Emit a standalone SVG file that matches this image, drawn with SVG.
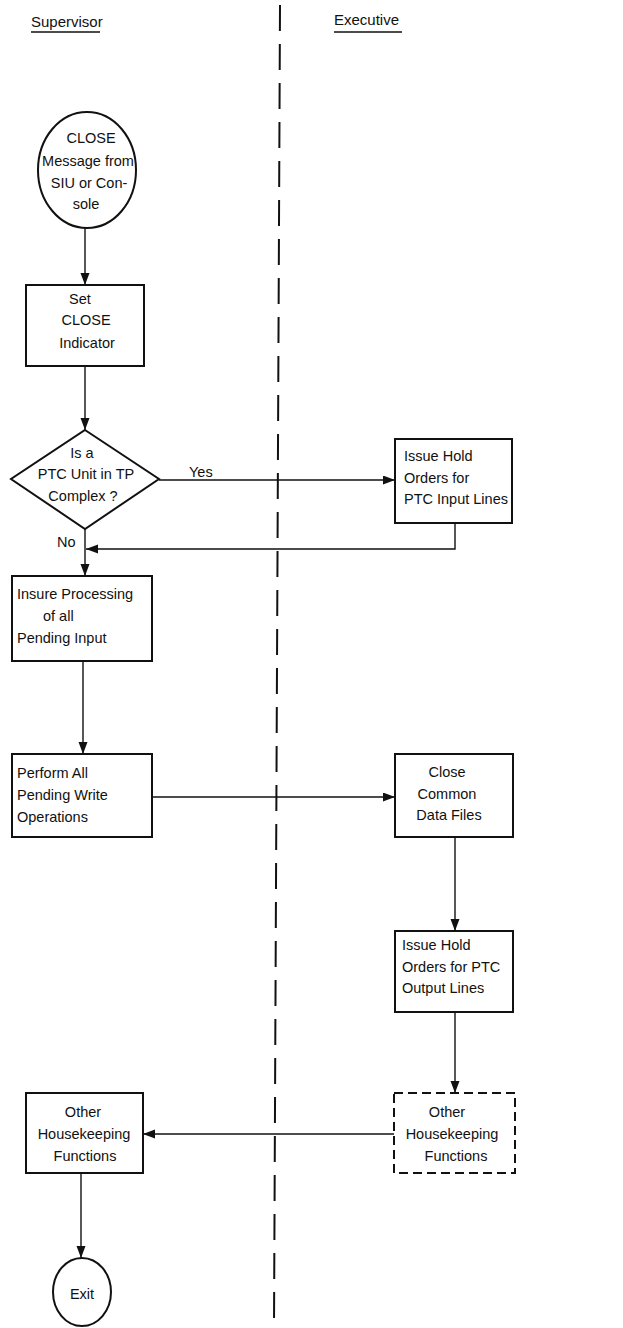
<svg xmlns="http://www.w3.org/2000/svg" width="623" height="1328" viewBox="0 0 623 1328">
<style>
text{font-family:"Liberation Sans",Arial,sans-serif;font-size:14.5px;fill:#111}
.c{text-anchor:middle}
.box{fill:#fff;stroke:#111;stroke-width:2}
.dbox{fill:#fff;stroke:#111;stroke-width:2;stroke-dasharray:9 5}
.con{fill:none;stroke:#111;stroke-width:1.4;marker-end:url(#arr)}
.h{font-size:15px}
</style>
<defs>
<marker id="arr" markerUnits="userSpaceOnUse" markerWidth="13" markerHeight="10" refX="12" refY="4.5" orient="auto">
<path d="M0,0 L12,4.5 L0,9 Z" fill="#111"/>
</marker>
</defs>
<rect width="623" height="1328" fill="#fff"/>
<g id="lanes">
<text x="31" y="27" class="h">Supervisor</text>
<line x1="31" y1="32" x2="100" y2="32" stroke="#111" stroke-width="1.5"/>
<text x="334" y="25" class="h">Executive</text>
<line x1="334" y1="32" x2="402" y2="32" stroke="#111" stroke-width="1.5"/>
<line x1="280" y1="5" x2="274" y2="1328" stroke="#111" stroke-width="2" stroke-dasharray="26 13"/>
</g>
<g id="connectors">
<path class="con" d="M85,228 L85,285"/>
<path class="con" d="M85,366 L85,430"/>
<path class="con" d="M159,480 L395,480"/>
<path class="con" d="M455,523 L455,549 L86,549"/>
<path class="con" d="M85,529 L85,576"/>
<path class="con" d="M83,661 L83,754"/>
<path class="con" d="M152,797 L395,797"/>
<path class="con" d="M455,837 L455,931"/>
<path class="con" d="M455,1012 L455,1093"/>
<path class="con" d="M394,1134 L143,1134"/>
<path class="con" d="M81,1173 L81,1258"/>
<text x="189" y="477">Yes</text>
<text x="57" y="547">No</text>
</g>
<g id="start">
<ellipse cx="87" cy="170" rx="49" ry="58" class="box"/>
<text x="91" y="143" class="c">CLOSE</text>
<text x="88" y="166" class="c">Message from</text>
<text x="89" y="188" class="c">SIU or Con-</text>
<text x="86" y="209" class="c">sole</text>
</g>
<g id="setclose">
<rect x="26" y="285" width="118" height="81" class="box"/>
<text x="80" y="304" class="c">Set</text>
<text x="86" y="325" class="c">CLOSE</text>
<text x="87" y="348" class="c">Indicator</text>
</g>
<g id="decision">
<path d="M85,430 L159,479 L85,529 L11,479 Z" class="box"/>
<text x="82" y="458" class="c">Is a</text>
<text x="86" y="479" class="c">PTC Unit in TP</text>
<text x="83" y="501" class="c">Complex ?</text>
</g>
<g id="holdinput">
<rect x="395" y="439" width="117" height="84" class="box"/>
<text x="404" y="461">Issue Hold</text>
<text x="404" y="483">Orders for</text>
<text x="404" y="504">PTC Input Lines</text>
</g>
<g id="insure">
<rect x="12" y="576" width="140" height="85" class="box"/>
<text x="17" y="599">Insure Processing</text>
<text x="43" y="621">of all</text>
<text x="17" y="643">Pending Input</text>
</g>
<g id="perform">
<rect x="12" y="754" width="140" height="83" class="box"/>
<text x="17" y="778">Perform All</text>
<text x="17" y="800">Pending Write</text>
<text x="17" y="822">Operations</text>
</g>
<g id="closefiles">
<rect x="395" y="754" width="118" height="83" class="box"/>
<text x="447" y="777" class="c">Close</text>
<text x="447" y="799" class="c">Common</text>
<text x="449" y="820" class="c">Data Files</text>
</g>
<g id="holdoutput">
<rect x="395" y="931" width="118" height="81" class="box"/>
<text x="402" y="950">Issue Hold</text>
<text x="402" y="972">Orders for PTC</text>
<text x="402" y="993">Output Lines</text>
</g>
<g id="otherexec">
<rect x="394" y="1093" width="121" height="80" class="dbox"/>
<text x="447" y="1117" class="c">Other</text>
<text x="452" y="1139" class="c">Housekeeping</text>
<text x="456" y="1161" class="c">Functions</text>
</g>
<g id="othersup">
<rect x="26" y="1093" width="117" height="80" class="box"/>
<text x="83" y="1117" class="c">Other</text>
<text x="84" y="1139" class="c">Housekeeping</text>
<text x="85" y="1161" class="c">Functions</text>
</g>
<g id="exit">
<ellipse cx="82" cy="1292" rx="29" ry="34" class="box"/>
<text x="82" y="1299" class="c">Exit</text>
</g>
</svg>
